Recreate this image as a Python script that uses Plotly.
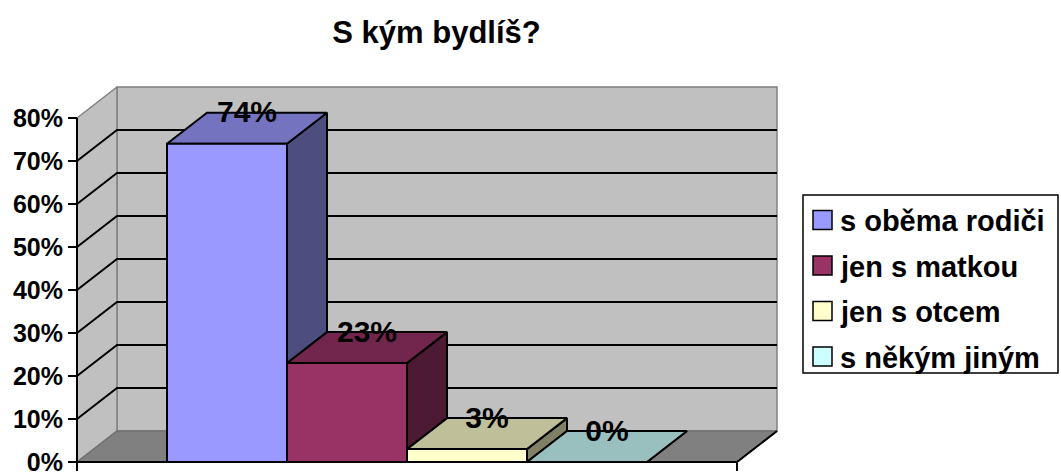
import plotly.graph_objects as go

# ---- data ----
chart_title = "S kým bydlíš?"
categories = ["s oběma rodiči", "jen s matkou", "jen s otcem", "s někým jiným"]
values = [0.74, 0.23, 0.03, 0.00]
value_labels = ["74%", "23%", "3%", "0%"]
tick_values = [0.0, 0.1, 0.2, 0.3, 0.4, 0.5, 0.6, 0.7, 0.8]
tick_labels = ["0%", "10%", "20%", "30%", "40%", "50%", "60%", "70%", "80%"]

# ---- styles ----
front_colors = ["#9999FF", "#993366", "#FFFFCC", "#CCFFFF"]
top_colors = ["#7373BF", "#73264D", "#BFBF99", "#99BFBF"]
side_colors = ["#4D4D80", "#4D1A33", "#808066", "#668080"]
FONT = "Liberation Sans, Arial, sans-serif"

# pseudo-3D geometry (in axis units)
PX_X = 120.0   # px per x unit (one bar width)
PX_Y = 430.0   # px per 100%
DX = 40.0 / PX_X
DY = 31.0 / PX_Y
GAP = 0.75
YMAX = 0.8
N = len(values)
XEND = 2 * GAP + N

W, H = 1061, 472
L, R, T, B = 65, 271, 80, 4
plot_w = W - L - R
plot_h = H - T - B
x0_px = 77
y0_px = 462
xr = [(L - x0_px) / PX_X, (L + plot_w - x0_px) / PX_X]
yr = [(y0_px - (T + plot_h)) / PX_Y, (y0_px - T) / PX_Y]


def px_to_paper_x(px):
    return (px - L) / plot_w


def px_to_paper_y(py):
    return (H - B - py) / plot_h


fig = go.Figure()


def poly(xs, ys, fill, lc, lw):
    fig.add_trace(go.Scatter(
        x=list(xs) + [xs[0]], y=list(ys) + [ys[0]], mode="lines",
        fill="toself", fillcolor=fill, line=dict(color=lc, width=lw),
        hoverinfo="skip", showlegend=False))


def seg(xs, ys, lc, lw):
    fig.add_trace(go.Scatter(x=xs, y=ys, mode="lines",
                             line=dict(color=lc, width=lw),
                             hoverinfo="skip", showlegend=False))


# walls and floor
poly([DX, XEND + DX, XEND + DX, DX], [DY, DY, YMAX + DY, YMAX + DY],
     "#C0C0C0", "#808080", 1.5)
poly([0, DX, DX, 0], [0, DY, YMAX + DY, YMAX], "#C0C0C0", "#808080", 1.5)
poly([0, XEND, XEND + DX, DX], [0, 0, DY, DY], "#808080", "#707070", 1.5)

# gridlines
for v in tick_values[1:-1]:
    seg([0, DX, XEND + DX], [v, v + DY, v + DY], "black", 2)

# bars
for i, v in enumerate(values):
    a = GAP + i
    b = a + 1
    poly([b, b + DX, b + DX, b], [0, DY, v + DY, v], side_colors[i], "black", 2)
    poly([a, b, b + DX, a + DX], [v, v, v + DY, v + DY], top_colors[i], "black", 2)
    if v > 0:
        poly([a, b, b, a], [0, 0, v, v], front_colors[i], "black", 2)

# axis lines
seg([0, 0], [0, YMAX], "black", 2)
seg([0, XEND, XEND + DX], [0, 0, DY], "black", 2)

# data labels
fig.add_trace(go.Scatter(
    x=[GAP + i + 0.5 + DX / 2 for i in range(N)],
    y=[v + DY - 2.0 / PX_Y for v in values], mode="text", text=value_labels,
    textposition="middle center", cliponaxis=False,
    textfont=dict(family=FONT, size=30, color="black", weight="bold"),
    hoverinfo="skip", showlegend=False))

# legend (drawn as box + swatches + text)
shapes = [dict(type="rect", xref="paper", yref="paper",
               x0=px_to_paper_x(803), x1=px_to_paper_x(1058),
               y0=px_to_paper_y(373), y1=px_to_paper_y(195),
               line=dict(color="black", width=1.5), fillcolor="white",
               layer="above")]
annotations = []
leg_y = [220, 265.5, 311, 356.5]
for i, c in enumerate(categories):
    cy = leg_y[i]
    shapes.append(dict(type="rect", xref="paper", yref="paper",
                       x0=px_to_paper_x(813), x1=px_to_paper_x(832),
                       y0=px_to_paper_y(cy + 9.5), y1=px_to_paper_y(cy - 9.5),
                       line=dict(color="black", width=1.5),
                       fillcolor=front_colors[i], layer="above"))
    annotations.append(dict(text=c, xref="paper", yref="paper",
                            x=px_to_paper_x(838), y=px_to_paper_y(cy + 1),
                            xanchor="left", yanchor="middle", showarrow=False,
                            font=dict(family=FONT, size=29, color="black",
                                      weight="bold")))

fig.update_layout(
    width=W, height=H,
    margin=dict(l=L, r=R, t=T, b=B, autoexpand=False),
    paper_bgcolor="white", plot_bgcolor="white",
    showlegend=False,
    shapes=shapes, annotations=annotations,
    title=dict(text=chart_title, x=436.5 / W, xanchor="center",
               y=1 - 32 / H, yanchor="middle", yref="container",
               font=dict(family=FONT, size=31, color="black", weight="bold")),
    xaxis=dict(range=xr, showgrid=False, zeroline=False, showline=False,
               tickvals=[0, XEND], ticks="outside", ticklen=8, tickwidth=2,
               tickcolor="black", showticklabels=False, fixedrange=True,
               anchor="free", position=(H - B - y0_px) / plot_h),
    yaxis=dict(range=yr, showgrid=False, zeroline=False, showline=False,
               tickvals=tick_values, ticktext=tick_labels, ticks="outside",
               ticklen=9, tickwidth=2, tickcolor="black", fixedrange=True,
               anchor="free", position=(x0_px - L) / plot_w,
               ticklabeloverflow="allow",
               tickfont=dict(family=FONT, size=25, color="black", weight="bold")),
)

fig.write_html("out.html",
               config={"displayModeBar": False},
               post_script="document.body.style.margin='0';"
                           "document.body.style.overflow='hidden';")
